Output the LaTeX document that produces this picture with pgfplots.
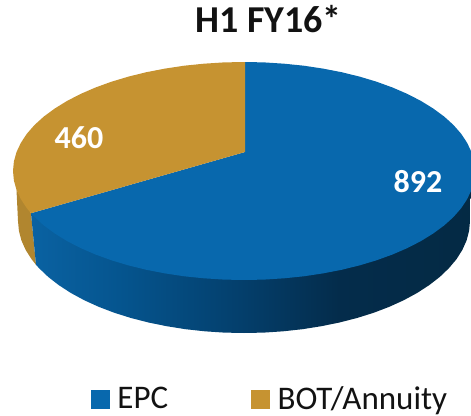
\documentclass[border=0pt]{standalone}
\usepackage{fontspec}
\setmainfont{Carlito}
\usepackage{pgfplots}
\pgfplotsset{compat=1.18}
\definecolor{epc}{HTML}{0868AD}
\definecolor{bot}{HTML}{C69331}
\definecolor{botside}{HTML}{B1862F}
\definecolor{sa}{HTML}{0A62A2}
\definecolor{sb}{HTML}{05558F}
\definecolor{sc}{HTML}{043F6C}
\definecolor{sd}{HTML}{042C4B}
\definecolor{se}{HTML}{042A44}
\pgfdeclarehorizontalshading{sideblue}{100bp}{color(0bp)=(sa); color(25bp)=(sa); color(35bp)=(sb); color(48.75bp)=(sc); color(60bp)=(sd); color(75bp)=(se); color(100bp)=(se)}
\begin{document}
\begin{tikzpicture}
\path[use as bounding box] (0,0) rectangle (471pt,415pt);
\begin{axis}[
  at={(0,0)}, anchor=south west,
  scale only axis, width=471pt, height=415pt,
  xmin=0, xmax=471, ymin=0, ymax=415, y dir=reverse,
  hide axis, no markers, clip mode=individual,
  title={\fontsize{38}{38}\selectfont\bfseries H1 FY16*},
  title style={at={(axis cs:268.5,25)}, anchor=center, inner sep=0pt, text=black!93},
  legend columns=2,
  legend cell align=left,
  legend style={draw=none, fill=none, at={(axis cs:91,399)}, anchor=west, inner sep=0pt, outer sep=0pt,
    font=\fontsize{33}{33}\selectfont, text=black!93,
    /tikz/every even column/.append style={column sep=81pt}},
  legend image code/.code={\fill[#1] (0pt,-9pt) rectangle (18pt,9pt); \path (24pt,0pt);},
]
\addlegendimage{epc}
\addlegendentry{EPC}
\addlegendimage{bot}
\addlegendentry{BOT/Annuity}

% side of the BOT/Annuity slice
\addplot[fill=botside, draw=none, forget plot] coordinates {
 (31,213.2)(36,264.8)(31.6,259.3)(25.7,250)(21.4,240.4)(18.9,230.8)(18,221)(16.5,189.9)
} -- cycle;

% side of the EPC slice
\addplot[shade, shading=sideblue, draw=none, forget plot] coordinates {
 (31,213.2)(36,264.8)(39.2,268.3)(48.3,277)(58.9,285.2)(70.9,293)(84.2,300.2)(98.7,306.8)
 (114.4,312.8)(131,318)(148.5,322.5)(166.7,326.2)(185.5,329.2)(204.8,331.3)(224.3,332.6)
 (244,333)(263.7,332.6)(283.2,331.3)(302.5,329.2)(321.3,326.2)(339.5,322.5)(357,318)
 (373.6,312.8)(389.3,306.8)(403.8,300.2)(417.1,293)(429.1,285.2)(439.7,277)(448.8,268.3)
 (456.4,259.3)(462.3,250)(466.6,240.4)(469.1,230.8)(470,221)(471,191)
} -- cycle;

% top of the EPC slice (892)
\addplot[fill=epc, draw=none, forget plot] coordinates {
 (245,152)(245,62)(264.1,62.4)(284.1,63.7)(303.8,65.7)(323,68.6)(341.6,72.2)(359.5,76.6)
 (376.5,81.7)(392.5,87.5)(407.3,93.9)(420.9,100.9)(433.2,108.5)(444.1,116.5)(453.4,124.9)
 (461.1,133.7)(467.1,142.8)(471.5,152.1)(474.1,161.5)(475,171)(474.1,180.5)(471.5,189.9)
 (467.1,199.2)(461.1,208.3)(453.4,217.1)(444.1,225.5)(433.2,233.5)(420.9,241.1)(407.3,248.1)
 (392.5,254.5)(376.5,260.3)(359.5,265.4)(341.6,269.8)(323,273.4)(303.8,276.3)(284.1,278.3)
 (264.1,279.6)(244,280)(223.9,279.6)(203.9,278.3)(184.2,276.3)(165,273.4)(146.4,269.8)
 (128.5,265.4)(111.5,260.3)(95.5,254.5)(80.7,248.1)(67.1,241.1)(54.8,233.5)(43.9,225.5)
 (34.6,217.1)(31,213.2)
} -- cycle;

% top of the BOT/Annuity slice (460)
\addplot[fill=bot, draw=none, forget plot] coordinates {
 (245,152)(245,62)(223.9,62.4)(203.9,63.7)(184.2,65.7)(165,68.6)(146.4,72.2)(128.5,76.6)
 (111.5,81.7)(95.5,87.5)(80.7,93.9)(67.1,100.9)(54.8,108.5)(43.9,116.5)(34.6,124.9)
 (26.9,133.7)(20.9,142.8)(16.5,152.1)(13.9,161.5)(13,171)(13.9,180.5)(16.5,189.9)
 (20.9,199.2)(26.9,208.3)(31,213.2)
} -- cycle;

\node[text=white, font=\fontsize{32}{32}\selectfont\bfseries, anchor=center] at (axis cs:418,182) {892};
\node[text=white, font=\fontsize{32}{32}\selectfont\bfseries, anchor=center] at (axis cs:79,138) {460};
\end{axis}
\end{tikzpicture}
\end{document}
